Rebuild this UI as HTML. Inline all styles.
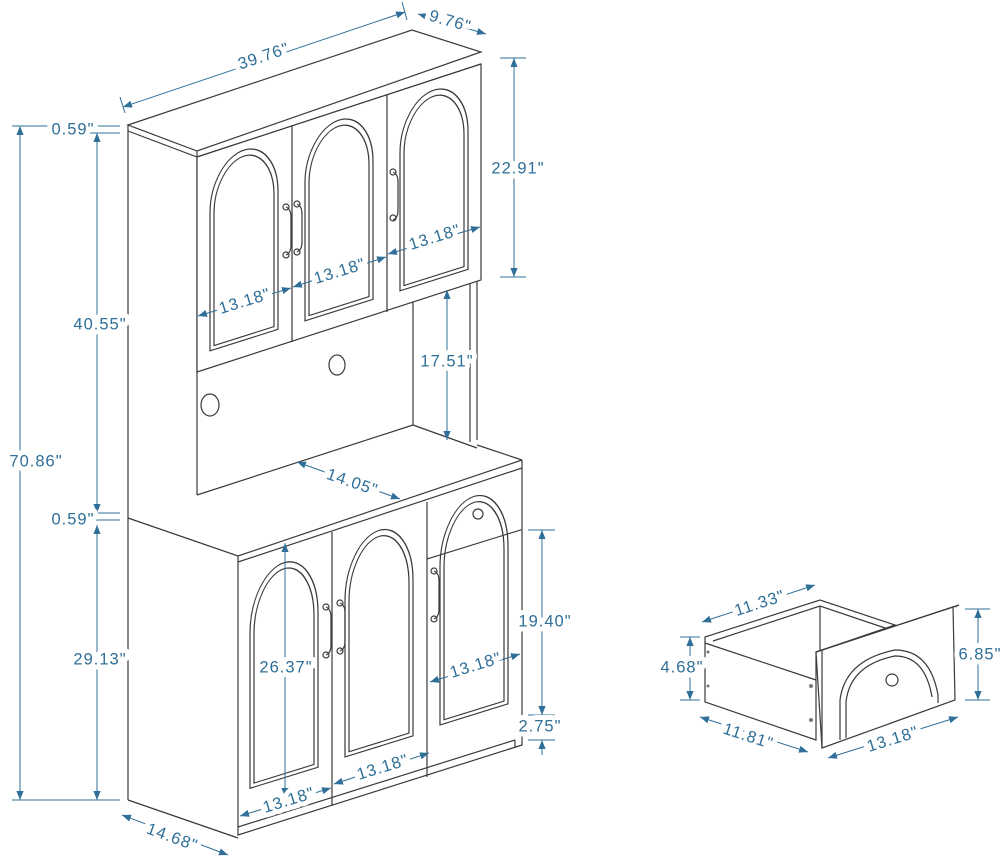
<!DOCTYPE html>
<html><head><meta charset="utf-8"><style>
html,body{margin:0;padding:0;background:#fff}
svg{display:block}
.l{fill:none;stroke:#3a3a3a;stroke-width:1.2}
.w{fill:#fff;stroke:#3a3a3a;stroke-width:1.2}
.d{fill:none;stroke:#2f6f98;stroke-width:1}
.a{fill:#2f6f98}
text{font-family:"Liberation Sans",sans-serif;font-size:16.5px;fill:#2f6f98;letter-spacing:1px;text-anchor:middle;dominant-baseline:middle;stroke:#fff;stroke-width:10;stroke-linejoin:round;paint-order:stroke}
</style></head><body>
<svg width="1000" height="865" viewBox="0 0 1000 865" xmlns="http://www.w3.org/2000/svg">
<defs>
<marker id="ar" viewBox="0 0 10 10" refX="10" refY="5" markerWidth="9" markerHeight="9" orient="auto-start-reverse"><path d="M0,1 L10,5 L0,9 Z" class="a"/></marker>
</defs>
<polygon class="w" points="128,125 412,30 481,52 197,151"/>
<polyline class="l" points="128,131 197,157 481,64"/>
<line class="l" x1="128" y1="125" x2="128" y2="800"/>
<line class="l" x1="197" y1="151" x2="197" y2="495"/>
<polygon class="w" points="197,157 481,64 481,280 197,372"/>
<line class="l" x1="292" y1="126" x2="292" y2="342"/>
<line class="l" x1="387" y1="95" x2="387" y2="312"/>
<g transform="matrix(1,-0.317,0,1,197,157)"><path class="l" d="M13,198 V60 A34,52 0 0 1 81,60 V198 Z"/><path class="l" d="M17,194 V62 A30,48 0 0 1 77,62 V194 Z"/></g>
<g transform="matrix(1,-0.317,0,1,292,127)"><path class="l" d="M13,198 V60 A34,52 0 0 1 81,60 V198 Z"/><path class="l" d="M17,194 V62 A30,48 0 0 1 77,62 V194 Z"/></g>
<g transform="matrix(1,-0.317,0,1,387,97)"><path class="l" d="M13,198 V60 A34,52 0 0 1 81,60 V198 Z"/><path class="l" d="M17,194 V62 A30,48 0 0 1 77,62 V194 Z"/></g>
<g class="l"><path d="M286,207 q5,2 5,10 v28 q0,8 -5,10"/><circle cx="286" cy="207" r="3"/><circle cx="286" cy="255" r="3"/>
<path d="M297,204 q5,2 5,10 v28 q0,8 -5,10"/><circle cx="297" cy="204" r="3"/><circle cx="297" cy="252" r="3"/>
<path d="M393,172 q5,2 5,10 v28 q0,8 -5,10"/><circle cx="393" cy="172" r="3"/><circle cx="393" cy="218" r="3"/></g>
<line class="l" x1="413" y1="302" x2="413" y2="425"/>
<line class="l" x1="470" y1="283" x2="470" y2="442"/>
<line class="l" x1="477" y1="281" x2="477" y2="440"/>
<line class="l" x1="197" y1="495" x2="413" y2="425"/>
<line class="l" x1="413" y1="425" x2="477" y2="448"/>
<ellipse class="l" cx="337" cy="365" rx="8" ry="10"/>
<ellipse class="l" cx="210" cy="405" rx="9" ry="11"/>
<polyline class="l" points="128,518 238,556 522,460"/>
<line class="l" x1="477" y1="445" x2="522" y2="460"/>
<polygon class="w" points="238,562 522,468 522,745 238,835"/>
<line class="l" x1="238" y1="556" x2="238" y2="562"/>
<line class="l" x1="522" y1="460" x2="522" y2="468"/>
<line class="l" x1="128" y1="800" x2="238" y2="838"/>
<line class="l" x1="238" y1="827" x2="515" y2="740"/>
<line class="l" x1="515" y1="740" x2="515" y2="747"/>
<line class="l" x1="332" y1="532" x2="332" y2="806"/>
<line class="l" x1="427" y1="502" x2="427" y2="777"/>
<g transform="matrix(1,-0.31,0,1,238,562)"><path class="l" d="M12,230 V75 A34,60 0 0 1 80,75 V230 Z"/><path class="l" d="M16,226 V77 A30,56 0 0 1 76,77 V226 Z"/></g>
<g transform="matrix(1,-0.31,0,1,332,533)"><path class="l" d="M13,228 V72 A34,60 0 0 1 81,72 V228 Z"/><path class="l" d="M17,224 V74 A30,56 0 0 1 77,74 V224 Z"/></g>
<g transform="matrix(1,-0.31,0,1,427,503)"><path class="l" d="M13,226 V68 A34,60 0 0 1 81,68 V226 Z"/><path class="l" d="M17,222 V70 A30,56 0 0 1 77,70 V222 Z"/><line class="l" x1="0" y1="56" x2="95" y2="56"/></g>
<circle class="l" cx="478" cy="514" r="5"/>
<g class="l"><path d="M326,607 q5,2 5,10 v28 q0,8 -5,10"/><circle cx="326" cy="607" r="3"/><circle cx="326" cy="655" r="3"/>
<path d="M340,603 q5,2 5,10 v28 q0,8 -5,10"/><circle cx="340" cy="603" r="3"/><circle cx="340" cy="651" r="3"/>
<path d="M434,571 q5,2 5,10 v28 q0,8 -5,10"/><circle cx="434" cy="571" r="3"/><circle cx="434" cy="619" r="3"/></g>
<polygon class="w" points="705,637 820,600 895,625 816,652 816,740 705,702"/>
<polyline class="l" points="713,641 820,606 888,629"/>
<line class="l" x1="820" y1="606" x2="820" y2="652"/>
<line class="l" x1="705" y1="643" x2="816" y2="680"/>
<polygon class="w" points="816,652 953,607 955,700 822,748"/>
<polyline class="l" points="822,650 822,748"/>
<polyline class="l" points="816,652 822,650 959,605 955,607"/>
<path class="l" d="M840,740 V700 Q845,660 895,650 Q930,650 938,695 V703"/>
<path class="l" d="M846,738 V702 Q850,665 895,656 Q925,656 932,697"/>
<circle class="l" cx="892" cy="680" r="6"/>
<g fill="#777"><circle cx="708" cy="652" r="1.5"/><circle cx="708" cy="686" r="1.5"/><circle cx="811" cy="686" r="2"/><circle cx="811" cy="720" r="2"/></g>
<g class="d">
<line x1="123" y1="107" x2="405" y2="12" marker-start="url(#ar)" marker-end="url(#ar)"/>
<line x1="120" y1="97" x2="125" y2="113"/><line x1="402" y1="2" x2="407" y2="20"/>
<line x1="418" y1="14" x2="486" y2="34" marker-start="url(#ar)" marker-end="url(#ar)"/>
<line x1="500" y1="58" x2="526" y2="58"/><line x1="500" y1="277" x2="526" y2="277"/>
<line x1="514" y1="58" x2="514" y2="277" marker-start="url(#ar)" marker-end="url(#ar)"/>
<line x1="12" y1="126" x2="120" y2="126"/><line x1="90" y1="133" x2="120" y2="133"/>
<line x1="20" y1="126" x2="20" y2="800" marker-start="url(#ar)" marker-end="url(#ar)"/>
<line x1="12" y1="800" x2="120" y2="800"/>
<line x1="97" y1="133" x2="97" y2="513" marker-start="url(#ar)" marker-end="url(#ar)"/>
<line x1="90" y1="513" x2="120" y2="513"/><line x1="90" y1="520" x2="120" y2="520"/>
<line x1="97" y1="525" x2="97" y2="800" marker-start="url(#ar)" marker-end="url(#ar)"/>
<line x1="198" y1="316" x2="291" y2="288" marker-start="url(#ar)" marker-end="url(#ar)"/>
<line x1="293" y1="287" x2="386" y2="257" marker-start="url(#ar)" marker-end="url(#ar)"/>
<line x1="388" y1="254" x2="480" y2="227" marker-start="url(#ar)" marker-end="url(#ar)"/>
<line x1="447" y1="290" x2="447" y2="440" marker-start="url(#ar)" marker-end="url(#ar)"/>
<line x1="297" y1="462" x2="400" y2="499" marker-start="url(#ar)" marker-end="url(#ar)"/>
<line x1="528" y1="530" x2="555" y2="530"/><line x1="528" y1="715" x2="555" y2="715"/><line x1="528" y1="740" x2="555" y2="740"/>
<line x1="542" y1="530" x2="542" y2="715" marker-start="url(#ar)" marker-end="url(#ar)"/>
<line x1="542" y1="755" x2="542" y2="740" marker-end="url(#ar)"/>
<line x1="285" y1="543" x2="285" y2="797" marker-start="url(#ar)" marker-end="url(#ar)"/>
<line x1="430" y1="682" x2="520" y2="654" marker-start="url(#ar)" marker-end="url(#ar)"/>
<line x1="334" y1="784" x2="429" y2="753" marker-start="url(#ar)" marker-end="url(#ar)"/>
<line x1="240" y1="816" x2="331" y2="788" marker-start="url(#ar)" marker-end="url(#ar)"/>
<line x1="122" y1="815" x2="228" y2="855" marker-start="url(#ar)" marker-end="url(#ar)"/>
<line x1="702" y1="622" x2="815" y2="585" marker-start="url(#ar)" marker-end="url(#ar)"/>
<line x1="680" y1="637" x2="700" y2="637"/><line x1="680" y1="700" x2="700" y2="700"/>
<line x1="690" y1="637" x2="690" y2="700" marker-start="url(#ar)" marker-end="url(#ar)"/>
<line x1="965" y1="609" x2="990" y2="609"/><line x1="965" y1="700" x2="990" y2="700"/>
<line x1="978" y1="609" x2="978" y2="700" marker-start="url(#ar)" marker-end="url(#ar)"/>
<line x1="700" y1="717" x2="808" y2="752" marker-start="url(#ar)" marker-end="url(#ar)"/>
<line x1="828" y1="758" x2="958" y2="717" marker-start="url(#ar)" marker-end="url(#ar)"/>
</g>
<g>
<text x="264" y="57" transform="rotate(-18.6 264 57)">39.76"</text>
<text x="450" y="22" transform="rotate(16 450 22)">9.76"</text>
<text x="518" y="169">22.91"</text>
<text x="73" y="130">0.59"</text>
<text x="36" y="462">70.86"</text>
<text x="100" y="325">40.55"</text>
<text x="73" y="520">0.59"</text>
<text x="100" y="660">29.13"</text>
<text x="245" y="302" transform="rotate(-17 245 302)">13.18"</text>
<text x="340" y="272" transform="rotate(-17 340 272)">13.18"</text>
<text x="435" y="238" transform="rotate(-17 435 238)">13.18"</text>
<text x="447" y="362">17.51"</text>
<text x="352" y="483" transform="rotate(19 352 483)">14.05"</text>
<text x="545" y="622">19.40"</text>
<text x="540" y="727">2.75"</text>
<text x="286" y="668">26.37"</text>
<text x="476" y="666" transform="rotate(-17 476 666)">13.18"</text>
<text x="383" y="768" transform="rotate(-17 383 768)">13.18"</text>
<text x="289" y="801" transform="rotate(-17 289 801)">13.18"</text>
<text x="172" y="838" transform="rotate(20 172 838)">14.68"</text>
<text x="760" y="604" transform="rotate(-18 760 604)">11.33"</text>
<text x="682" y="668">4.68"</text>
<text x="980" y="655">6.85"</text>
<text x="748" y="737" transform="rotate(18 748 737)">11.81"</text>
<text x="893" y="740" transform="rotate(-17 893 740)">13.18"</text>
</g>
</svg>
</body></html>
